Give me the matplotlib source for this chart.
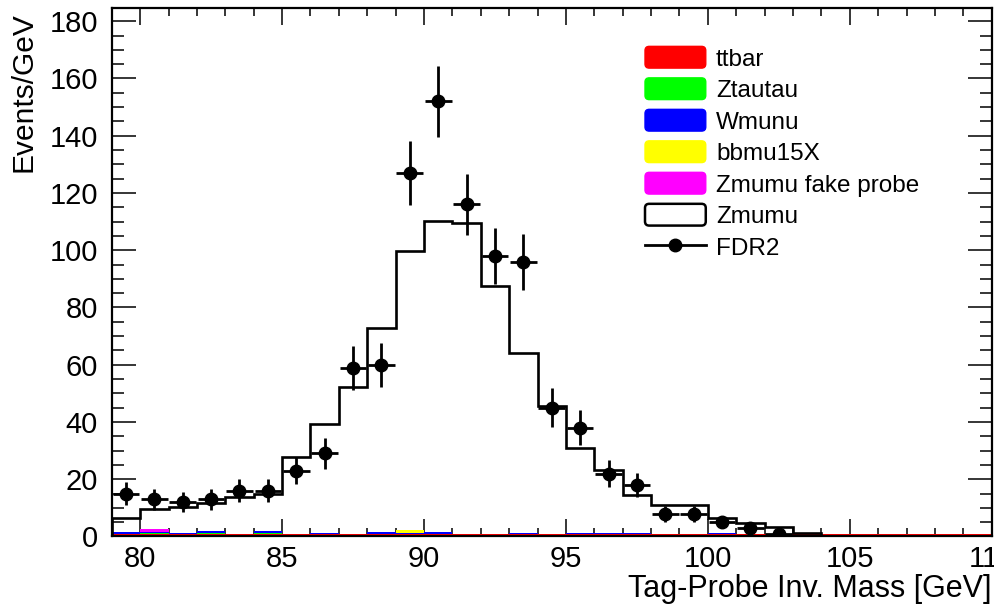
import numpy as np
import matplotlib
matplotlib.use('Agg')
import matplotlib.pyplot as plt
from matplotlib.patches import Patch, FancyBboxPatch
from matplotlib.lines import Line2D
from matplotlib.legend_handler import HandlerPatch
from matplotlib.ticker import MultipleLocator

plt.rcParams['font.family'] = ['Liberation Sans', 'DejaVu Sans']

# 1 GeV bins from 79 to 110
edges = np.arange(79, 111)

# stacked backgrounds, Events/GeV per bin (79-80 ... 109-110)
ttbar = [0.7] * 31
ztautau = [0, 0.6, 0, 0.6, 0, 0.6, 0, 0, 0, 0, 0, 0, 0, 0, 0, 0,
           0, 0, 0, 0, 0, 0, 0, 0, 0, 0, 0, 0, 0, 0, 0]
wmunu = [1.0, 0.4, 0.6, 0.6, 0, 0.6, 0, 0.6, 0, 1.0, 0.6, 1.0, 0, 0, 0.6, 0,
         0.6, 0.6, 0.6, 0, 0, 0.6, 0, 0, 0, 0, 0, 0, 0, 0, 0]
bbmu15x = [0, 0, 0, 0, 0, 0, 0, 0, 0, 0, 1.1, 0, 0, 0, 0, 0,
           0, 0, 0, 0, 0, 0, 0, 0, 0, 0, 0, 0, 0, 0, 0]
zmumu_fake = [0, 0.8, 0, 0, 0, 0, 0, 0, 0, 0, 0, 0, 0, 0, 0, 0,
              0, 0, 0, 0, 0, 0, 0, 0, 0, 0, 0, 0, 0, 0, 0]

# Zmumu (total) histogram, bins 79-80 ... 103-104
zmumu_edges = np.arange(79, 105)
zmumu = [6.4, 9.5, 10.2, 11.6, 13.9, 14.9, 27.9, 39.2, 52.3, 73.0, 99.8, 110.3,
         109.4, 87.5, 64.0, 45.6, 30.9, 23.2, 14.5, 11.0, 11.0, 6.4, 4.6, 3.4, 1.1]

# FDR2 data
fdr2_x = np.arange(79.5, 103.0, 1.0)
fdr2 = [15, 13, 12, 13, 16, 16, 23, 29, 59, 60, 127, 152, 116, 98, 96, 45,
        38, 22, 18, 8, 8, 5, 3, 1]
fdr2_err = [3.9, 3.6, 3.5, 3.6, 4.0, 4.0, 4.8, 5.4, 7.7, 7.7, 11.3, 12.3, 10.8,
            9.9, 9.8, 6.7, 6.2, 4.7, 4.2, 2.8, 2.8, 2.2, 1.7, 1.0]

fig = plt.figure(figsize=(9.95, 6.08), dpi=100)
ax = fig.add_axes([0.1123, 0.1176, 0.8844, 0.8687])

stack = [(ttbar, '#ff0000', 'ttbar'), (ztautau, '#00ff00', 'Ztautau'),
         (wmunu, '#0000ff', 'Wmunu'), (bbmu15x, '#ffff00', 'bbmu15X'),
         (zmumu_fake, '#ff00ff', 'Zmumu fake probe')]
base = np.zeros(31)
for vals, col, lab in stack:
    top = base + np.array(vals)
    ax.stairs(top, edges, baseline=base.copy(), fill=True, color=col, lw=0, zorder=2)
    base = top

ax.stairs(zmumu, zmumu_edges, baseline=0, color='black', lw=1.9, zorder=3)

ax.errorbar(fdr2_x, fdr2, yerr=fdr2_err, xerr=0.47, fmt='o', color='black',
            ms=9, elinewidth=2, capsize=0, zorder=4)

ax.set_xlim(79, 110)
ax.set_ylim(0, 184.5)
ax.xaxis.set_major_locator(MultipleLocator(5))
ax.xaxis.set_minor_locator(MultipleLocator(1))
ax.yaxis.set_major_locator(MultipleLocator(20))
ax.yaxis.set_minor_locator(MultipleLocator(5))
ax.tick_params(which='both', direction='in', top=True, right=True, width=1.1,
               labelsize=21)
ax.tick_params(axis='x', which='major', length=12, pad=6)
ax.tick_params(axis='x', which='minor', length=6)
ax.tick_params(axis='y', which='major', length=17, pad=10)
ax.tick_params(axis='y', which='minor', length=8.7)
for s in ax.spines.values():
    s.set_linewidth(1.6)

ax.set_xlabel('Tag-Probe Inv. Mass [GeV]', fontsize=22, loc='right')
ax.xaxis.label.set_va('baseline')
ax.xaxis.set_label_coords(1.0, -0.115)
ax.set_ylabel('Events/GeV', fontsize=21.5, loc='top')
ax.yaxis.set_label_coords(-0.084, 0.993)


def rounded_box(legend, orig_handle, xdescent, ydescent, width, height, fontsize):
    return FancyBboxPatch((-xdescent, -ydescent), width, height,
                          boxstyle='round,pad=0,rounding_size=3')


handles = [Patch(facecolor=c, edgecolor=c, label=l) for _, c, l in stack]
handles.append(Patch(facecolor='white', edgecolor='black', lw=1.8, label='Zmumu'))
handles.append(Line2D([], [], color='black', marker='o', ms=9, lw=2, label='FDR2'))
hmap = {h: HandlerPatch(patch_func=rounded_box) for h in handles[:6]}
ax.legend(handles=handles, handler_map=hmap, loc='upper left',
          bbox_to_anchor=(0.606, 0.928), frameon=False, fontsize=17.5,
          handlelength=2.5, handleheight=1.0, handletextpad=0.42,
          labelspacing=0.3, borderpad=0, borderaxespad=0)

fig.savefig('out.png', dpi=100)
